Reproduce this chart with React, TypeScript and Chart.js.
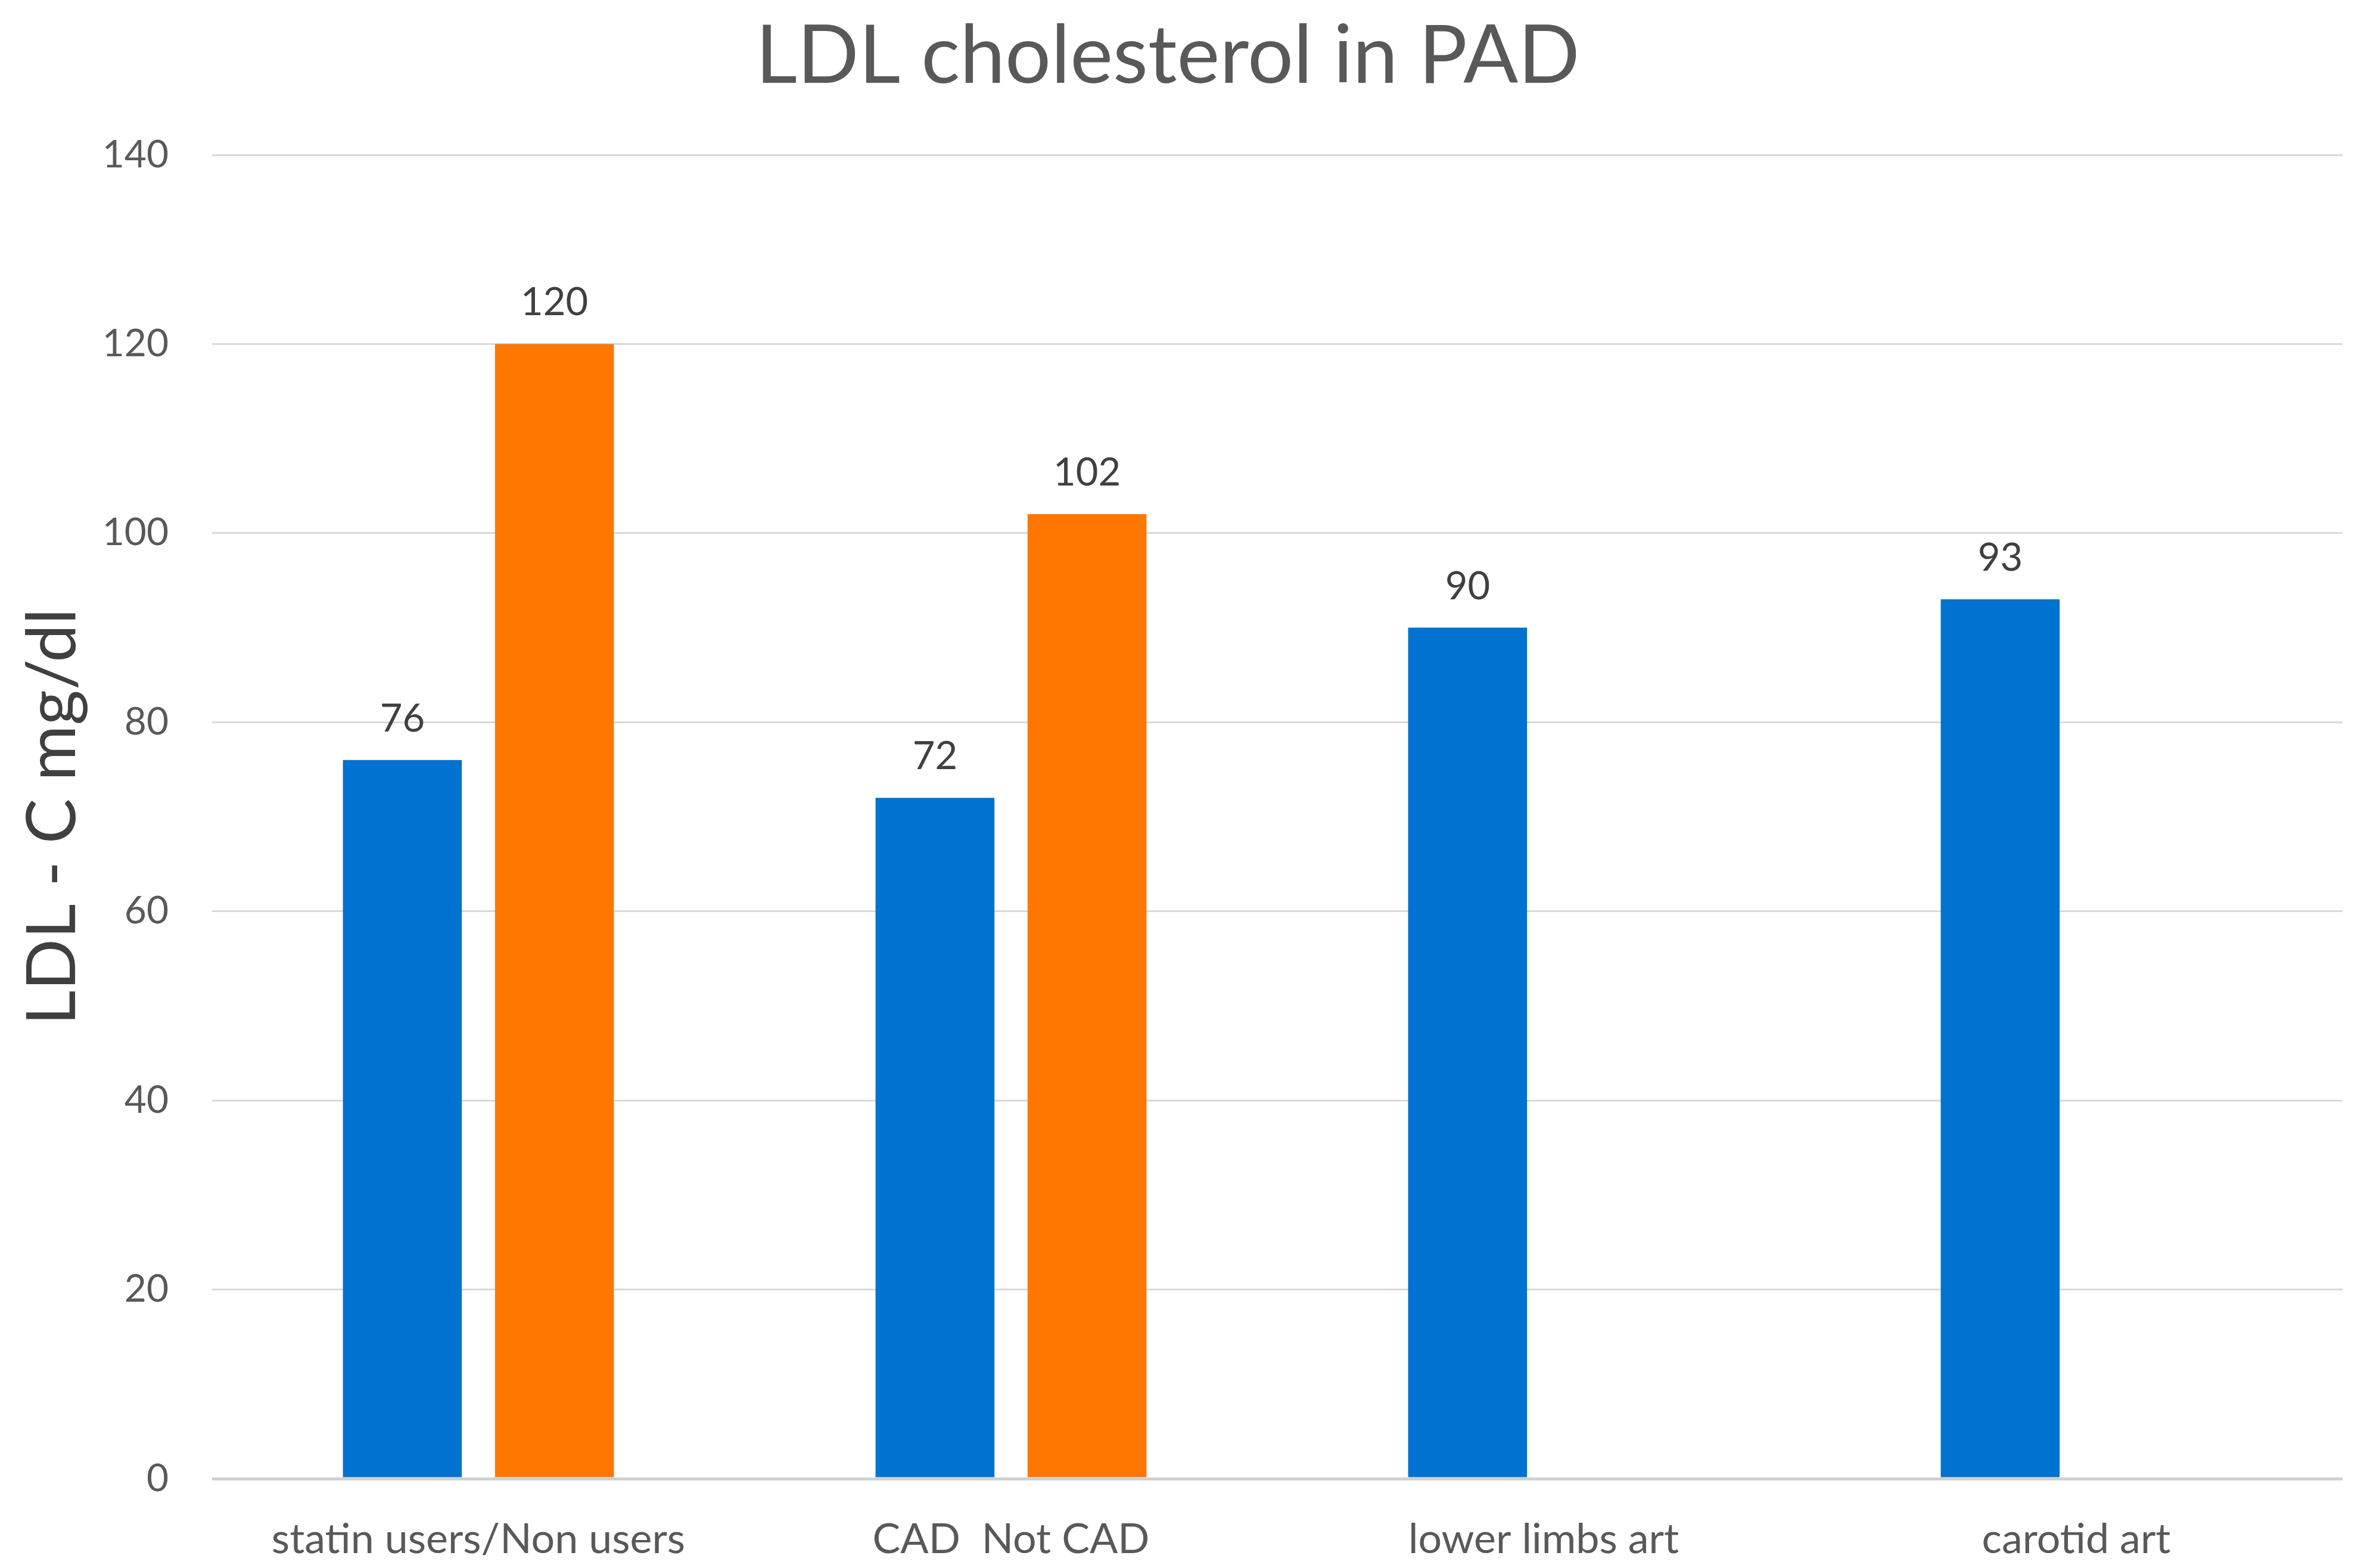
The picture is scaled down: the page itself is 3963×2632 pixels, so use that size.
import React, { useEffect, useRef } from "react";
import { Chart, registerables } from "chart.js";

Chart.register(...registerables);

const categories: string[] = ["statin users/Non users", "CAD  Not CAD", "lower limbs art", "carotid art"];
const seriesBlue: (number | null)[] = [76, 72, 90, 93];
const seriesOrange: (number | null)[] = [120, 102, null, null];
const yTicks: number[] = [0, 20, 40, 60, 80, 100, 120, 140];
const chartTitle = "LDL cholesterol in PAD";
const yTitle = "LDL - C mg/dl";

const FONT = "Lato, 'Open Sans', sans-serif";

const titlePlugin = {
  id: "customTitle",
  afterDraw(chart: any) {
    const ctx = chart.ctx;
    ctx.save();
    ctx.font = `136px ${FONT}`;
    ctx.fillStyle = "#595959";
    ctx.textAlign = "center";
    ctx.textBaseline = "alphabetic";
    ctx.fillText(chartTitle, 1960, 139);
    ctx.restore();
  },
};

const valueLabelPlugin = {
  id: "valueLabels",
  afterDatasetsDraw(chart: any) {
    const ctx = chart.ctx;
    ctx.save();
    ctx.font = `65px ${FONT}`;
    ctx.fillStyle = "#404040";
    ctx.textAlign = "center";
    ctx.textBaseline = "alphabetic";
    chart.data.datasets.forEach((ds: any, i: number) => {
      const meta = chart.getDatasetMeta(i);
      meta.data.forEach((bar: any, j: number) => {
        const v = ds.data[j];
        if (v === null || v === undefined) return;
        ctx.fillText(String(v), bar.x, bar.y - 48);
      });
    });
    ctx.restore();
  },
};

export default function App() {
  const ref = useRef<HTMLCanvasElement | null>(null);
  useEffect(() => {
    if (!ref.current) return;
    const chart = new Chart(ref.current, {
      type: "bar",
      data: {
        labels: categories,
        datasets: [
          {
            label: "A",
            data: seriesBlue,
            backgroundColor: "#0072CF",
            categoryPercentage: 0.571,
            barPercentage: 0.782,
          },
          {
            label: "B",
            data: seriesOrange,
            backgroundColor: "#FF7700",
            categoryPercentage: 0.571,
            barPercentage: 0.782,
          },
        ],
      },
      options: {
        animation: false,
        responsive: true,
        maintainAspectRatio: false,
        devicePixelRatio: 1,
        layout: { padding: { left: 0, right: 31, top: 260, bottom: 0 } },
        plugins: {
          legend: { display: false },
          title: { display: false },
          tooltip: { enabled: false },
        },
        scales: {
          x: {
            grid: { display: false, drawTicks: false },
            border: { display: false },
            ticks: {
              color: "#595959",
              font: { family: FONT, size: 70 },
              padding: 60,
              maxRotation: 0,
              autoSkip: false,
            },
            afterFit(scale: any) {
              scale.height = 150;
            },
          },
          y: {
            min: 0,
            max: 140,
            afterBuildTicks(scale: any) {
              scale.ticks = yTicks.map((v) => ({ value: v }));
            },
            grid: {
              color: (c: any) => (c.tick && c.tick.value === 0 ? "#D0D0D0" : "#D9D9D9"),
              lineWidth: (c: any) => (c.tick && c.tick.value === 0 ? 5 : 3),
              drawTicks: false,
            },
            border: { display: false },
            ticks: {
              color: "#595959",
              font: { family: FONT, size: 64 },
              padding: 73,
            },
            title: {
              display: true,
              text: yTitle,
              color: "#404040",
              font: { family: FONT, size: 114 },
              padding: { top: 21, bottom: 0 },
            },
            afterFit(scale: any) {
              scale.width = 356;
            },
          },
        },
      },
      plugins: [titlePlugin, valueLabelPlugin],
    });
    return () => chart.destroy();
  }, []);
  return (
    <div style={{ position: "fixed", left: 0, top: 0, width: "3963px", height: "2632px", background: "#ffffff" }}>
      <canvas ref={ref} />
    </div>
  );
}
